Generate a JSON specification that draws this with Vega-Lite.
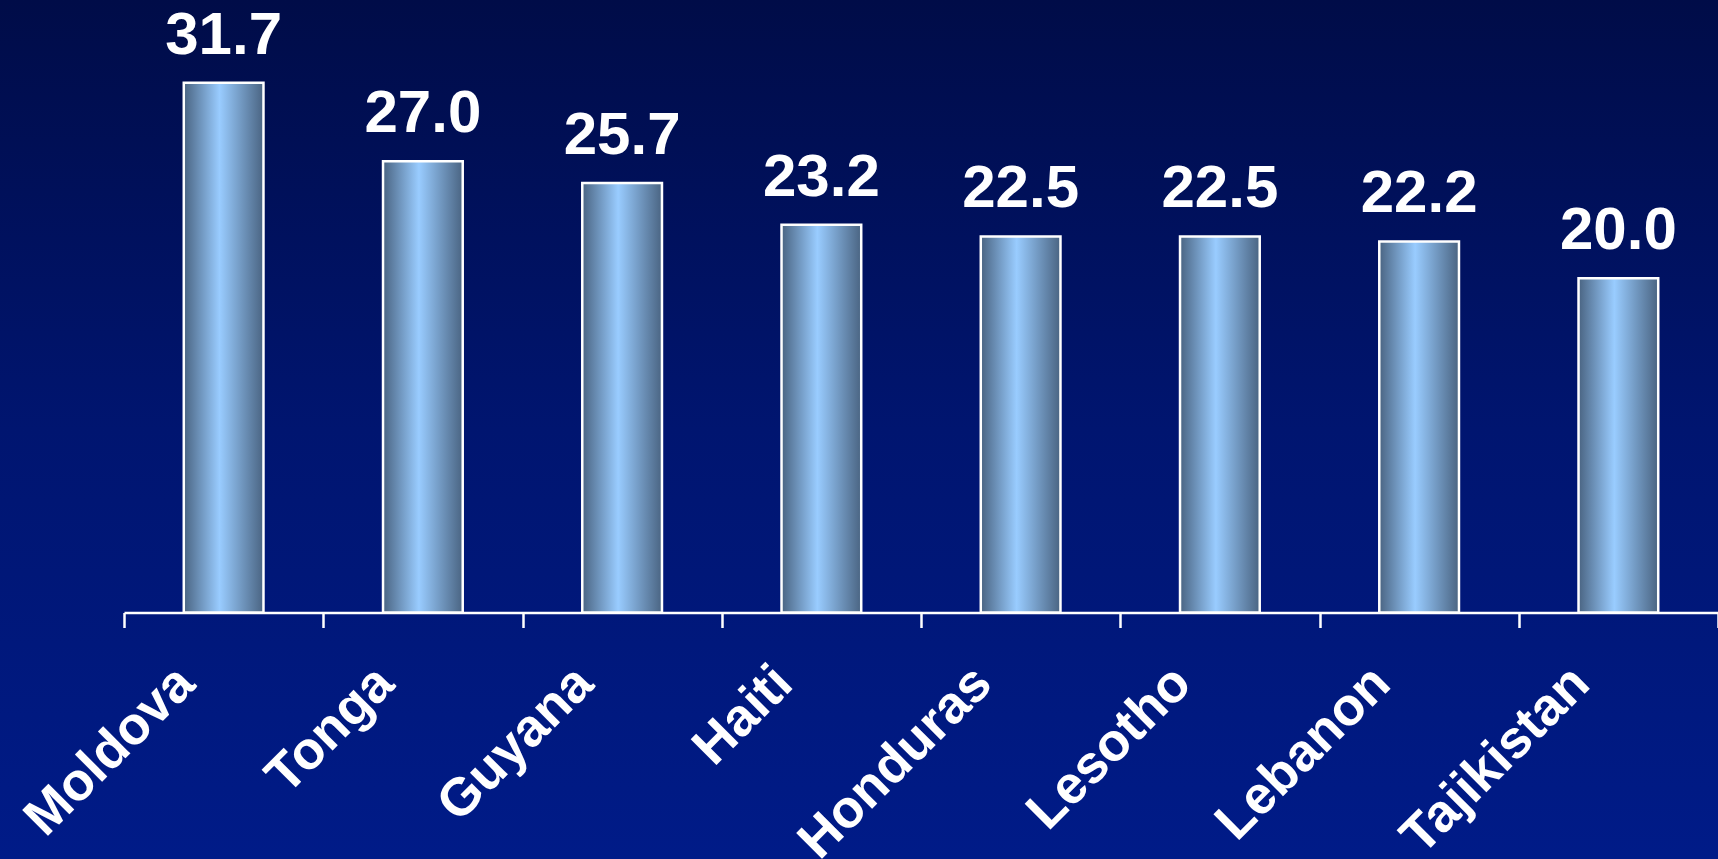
{
  "$schema": "https://vega.github.io/schema/vega-lite/v6.json",
  "width": 1718,
  "height": 859,
  "autosize": "none",
  "padding": 0,
  "background": "#001a85",
  "config": {
    "view": {
      "stroke": null,
      "fill": {
        "gradient": "linear",
        "x1": 0, "y1": 0, "x2": 0, "y2": 1,
        "stops": [
          {"offset": 0, "color": "#000c48"},
          {"offset": 0.5, "color": "#001570"},
          {"offset": 1, "color": "#001b88"}
        ]
      }
    }
  },
  "data": {
    "values": [
      {"country": "Moldova", "value": 31.7},
      {"country": "Tonga", "value": 27.0},
      {"country": "Guyana", "value": 25.7},
      {"country": "Haiti", "value": 23.2},
      {"country": "Honduras", "value": 22.5},
      {"country": "Lesotho", "value": 22.5},
      {"country": "Lebanon", "value": 22.2},
      {"country": "Tajikistan", "value": 20.0}
    ]
  },
  "encoding": {
    "x": {
      "field": "country",
      "type": "nominal",
      "sort": null,
      "scale": {"range": [124, 1718], "paddingInner": 0, "paddingOuter": 0},
      "axis": {
        "title": null,
        "orient": "bottom",
        "offset": -246.5,
        "tickBand": "extent",
        "domainColor": "white",
        "domainWidth": 2.5,
        "tickColor": "white",
        "tickWidth": 2.5,
        "tickSize": 15,
        "labelAngle": -45,
        "labelAlign": "right",
        "labelBaseline": "middle",
        "labelFont": "Liberation Sans",
        "labelFontWeight": "bold",
        "labelFontSize": 53,
        "labelColor": "white",
        "labelPadding": 47,
        "labelOffset": -38,
        "labelOverlap": false,
        "labelLimit": 0,
        "labelFlush": false,
        "labelBound": false,
        "grid": false
      }
    },
    "y": {
      "field": "value",
      "type": "quantitative",
      "scale": {"domain": [-14.75, 36.65], "nice": false, "zero": false},
      "axis": null
    }
  },
  "layer": [
    {
      "mark": {
        "type": "bar",
        "width": {"band": 0.4},
        "fill": {
          "gradient": "linear",
          "x1": 0, "y1": 0, "x2": 1, "y2": 0,
          "stops": [
            {"offset": 0, "color": "#4a6482"},
            {"offset": 0.45, "color": "#99ccff"},
            {"offset": 1, "color": "#4a6482"}
          ]
        },
        "stroke": "white",
        "strokeWidth": 2.5
      },
      "encoding": {"y2": {"datum": 0}}
    },
    {
      "mark": {
        "type": "text",
        "font": "Liberation Sans",
        "fontWeight": "bold",
        "fontSize": 60,
        "color": "white",
        "baseline": "alphabetic",
        "dy": -29
      },
      "encoding": {"text": {"field": "value", "type": "quantitative", "format": ".1f"}}
    }
  ]
}
